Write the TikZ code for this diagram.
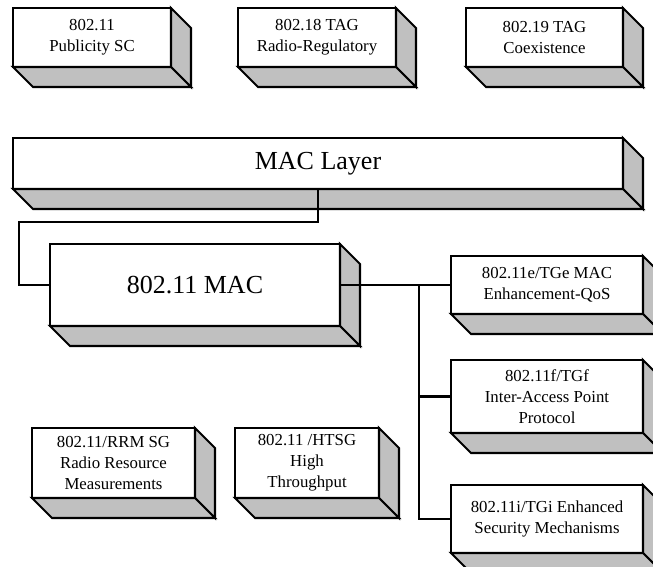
\documentclass[tikz,border=0pt]{standalone}
\usepackage{fontspec}
\setmainfont{Liberation Serif}
\definecolor{sidegray}{HTML}{C0C0C0}
\newcommand\depthfaces[1]{%
  \filldraw[face] (#1.north east) -- ([shift={(20,20)}]#1.north east) -- ([shift={(20,20)}]#1.south east) -- (#1.south east) -- cycle;
  \filldraw[face] (#1.south west) -- ([shift={(20,20)}]#1.south west) -- ([shift={(20,20)}]#1.south east) -- (#1.south east) -- cycle;}
\begin{document}
\begin{tikzpicture}[x=1pt,y=-1pt,
  front/.style={draw=black, fill=white, line width=2.1pt, inner sep=0pt, outer sep=0pt, align=center, font=\fontsize{16.8}{21}\selectfont},
  bigfront/.style={front, font=\fontsize{26}{30}\selectfont},
  face/.style={fill=sidegray, draw=black, line width=2.1pt, line join=miter},
  conn/.style={draw=black, line width=2.1pt}]
\useasboundingbox (0,0) rectangle (653,566);
\clip (0,0) rectangle (653,566);
% boxes (front faces)
\node[front, minimum width=158pt, minimum height=59pt] (b1) at (92,37.5) {802.11\\Publicity SC};
\node[front, minimum width=158pt, minimum height=59pt] (b2) at (317,37.5) {802.18 TAG\\Radio-Regulatory};
\node[front, minimum width=157pt, minimum height=59pt] (b3) at (544.5,37.5) {802.19 TAG\\Coexistence};
\node[bigfront, minimum width=610pt, minimum height=51pt] (ml) at (318,163.5) {MAC Layer};
\node[bigfront, minimum width=290pt, minimum height=82pt] (mac) at (195,285) {802.11 MAC};
\node[front, minimum width=192pt, minimum height=58pt] (e) at (547,285) {802.11e/TGe MAC\\Enhancement-QoS};
\node[front, minimum width=192pt, minimum height=73pt] (f) at (547,396.5) {802.11f/TGf\\Inter-Access Point\\Protocol};
\node[front, minimum width=192pt, minimum height=68pt] (i) at (547,519) {802.11i/TGi Enhanced\\Security Mechanisms};
\node[front, minimum width=163pt, minimum height=70pt] (rrm) at (113.5,463) {802.11/RRM SG\\Radio Resource\\Measurements};
\node[front, minimum width=144pt, minimum height=70pt] (htsg) at (307,463) {802.11 /HTSG\\High\\Throughput};
% side and bottom faces
\depthfaces{b1}\depthfaces{b2}\depthfaces{b3}\depthfaces{ml}\depthfaces{mac}
\depthfaces{e}\depthfaces{f}\depthfaces{i}\depthfaces{rrm}\depthfaces{htsg}
% connectors
\coordinate (c1) at (19,222);
\coordinate (bus) at (419,285);
\draw[conn] (ml.south) |- (c1) |- (mac.west);
\draw[conn] (mac.east) -- (e.west);
\draw[conn] (bus) |- (f.west);
\draw[conn] (bus) |- (i.west);
\end{tikzpicture}
\end{document}
